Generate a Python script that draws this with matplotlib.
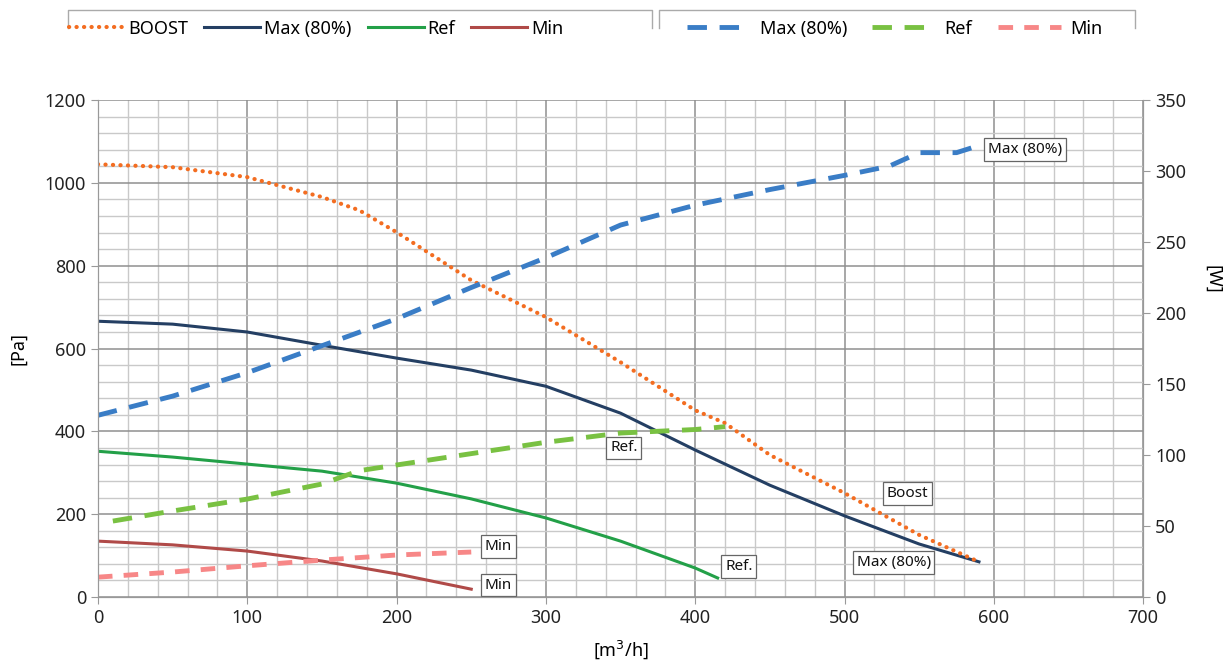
import matplotlib.pyplot as plt
from matplotlib.lines import Line2D
import numpy as np

plt.rcParams['font.family'] = ['Noto Sans', 'DejaVu Sans']

# pressure curves [Pa]
boost_x = [0, 50, 100, 150, 175, 200, 250, 300, 350, 400, 420, 450, 500, 550, 590]
boost_pa = [1045, 1038, 1014, 966, 934, 881, 765, 676, 567, 451, 420, 343, 251, 150, 85]

max_x = [0, 50, 100, 150, 200, 250, 300, 350, 400, 450, 500, 550, 590]
max_pa = [666, 659, 640, 608, 577, 548, 509, 444, 355, 270, 196, 128, 85]

ref_x = [0, 50, 100, 150, 200, 250, 300, 350, 400, 415]
ref_pa = [352, 338, 321, 304, 275, 237, 191, 135, 70, 46]

min_x = [0, 50, 100, 150, 200, 250]
min_pa = [135, 126, 111, 87, 56, 19]

# power curves [W]
maxw_x = [0, 50, 100, 150, 200, 250, 300, 350, 400, 450, 500, 530, 550, 575, 590]
maxw_w = [128, 141.5, 158, 177, 196, 218, 239, 262, 276, 287, 297, 303.5, 313, 313, 318]

refw_x = [10, 50, 100, 150, 175, 200, 250, 300, 350, 400, 420]
refw_w = [53.5, 60.6, 69, 79.6, 89, 93, 101, 109, 115.5, 118, 120]

minw_x = [0, 50, 100, 150, 200, 250]
minw_w = [14, 17.6, 22, 26, 29.6, 31.7]

fig = plt.figure(figsize=(12.24, 6.63), dpi=100)
ax = fig.add_axes([0.080, 0.0995, 0.854, 0.7495])
ax2 = ax.twinx()

ax.set_xlim(0, 700)
ax.set_ylim(0, 1200)
ax2.set_ylim(0, 350)
ax.set_xticks(np.arange(0, 701, 100))
ax.set_xticks(np.arange(0, 701, 20), minor=True)
ax.set_yticks(np.arange(0, 1201, 200))
ax.set_yticks(np.arange(0, 1201, 40), minor=True)
ax2.set_yticks(np.arange(0, 351, 50))

ax.grid(True, which='minor', color='#c9c9c9', lw=1.0)
ax.grid(True, which='major', color='#8f8f8f', lw=1.1)
ax.set_axisbelow(True)
ax.tick_params(which='minor', length=0)
ax.tick_params(which='major', labelsize=13, colors='#222222', length=5, color='#999999')
ax2.tick_params(labelsize=13, colors='#222222', length=5, color='#999999')
for a in (ax, ax2):
    for s in a.spines.values():
        s.set_color('#999999')
    a.spines['top'].set_visible(False)

ax.set_xlabel('[m$^3$/h]', fontsize=13, labelpad=8)
ax.set_ylabel('[Pa]', fontsize=13, va='center')
ax.yaxis.set_label_coords(-0.0766, 0.5)
ax2.set_ylabel('[W]', fontsize=13, rotation=-90, va='center')
ax2.yaxis.set_label_coords(1.067, 0.64)

dot = (0, (0.05, 1.75))
l1, = ax.plot(boost_x, boost_pa, color='#f36d21', lw=3, ls=dot, dash_capstyle='round', label='BOOST', zorder=5)
l2, = ax.plot(max_x, max_pa, color='#243f63', lw=2.2, label='Max (80%)')
l3, = ax.plot(ref_x, ref_pa, color='#23a048', lw=2.2, label='Ref')
l4, = ax.plot(min_x, min_pa, color='#b04a48', lw=2.2, label='Min')

l5, = ax2.plot(maxw_x, maxw_w, color='#3a7dc6', lw=3.5, ls=(0, (4, 2.6)), label='Max (80%)')
l6, = ax2.plot(refw_x, refw_w, color='#79c142', lw=3.5, ls=(0, (4, 2.6)), label='Ref')
l7, = ax2.plot(minw_x, minw_w, color='#f78787', lw=3.5, ls=(0, (3, 2.3)), label='Min')

box = dict(boxstyle='square,pad=0.25', fc='white', ec='#666666', lw=0.9)
lab_kw = dict(fontsize=11, color='#111111', bbox=box, va='center', ha='left', zorder=10)
ax2.text(596, 315, 'Max (80%)', **lab_kw)
ax.text(343, 360, 'Ref.', **lab_kw)
ax.text(528, 250, 'Boost', **lab_kw)
ax.text(508, 83, 'Max (80%)', **lab_kw)
ax.text(420, 74, 'Ref.', **lab_kw)
ax.text(259, 122, 'Min', **lab_kw)
ax.text(259, 29, 'Min', **lab_kw)

leg1 = fig.legend(handles=[l1, l2, l3, l4], loc='center', bbox_to_anchor=(0.258, 0.957),
                  ncol=4, frameon=False, fontsize=13, handlelength=3.1, columnspacing=0.9,
                  handletextpad=0.2, borderaxespad=0)
leg2 = fig.legend(handles=[l5, l6, l7], loc='center', bbox_to_anchor=(0.731, 0.957),
                  ncol=3, frameon=False, fontsize=13, handlelength=3.5, columnspacing=1.4,
                  handletextpad=0.5, borderaxespad=0)

# legend frames (top edge and short sides only)
for x0, x1 in [(68, 652), (659, 1135)]:
    xs = [x0 / 1224, x0 / 1224, x1 / 1224, x1 / 1224]
    ys = [1 - 28 / 663, 1 - 10 / 663, 1 - 10 / 663, 1 - 28 / 663]
    fig.add_artist(Line2D(xs, ys, color='#aaaaaa', lw=1.0, transform=fig.transFigure))

fig.savefig('out.png', dpi=100)
